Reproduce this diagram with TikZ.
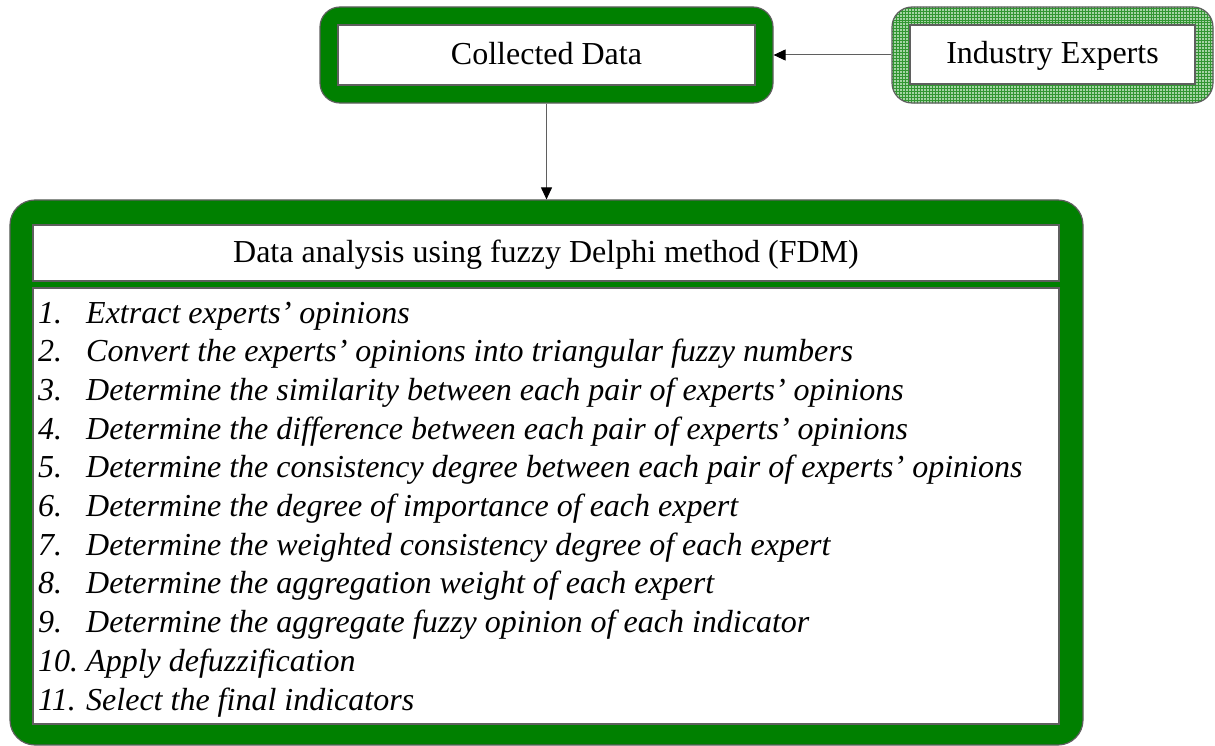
\documentclass[tikz,border=0pt]{standalone}
\usepackage{fontspec}
\setmainfont{Liberation Serif}
\usetikzlibrary{arrows.meta,patterns}
\definecolor{framegreen}{HTML}{008000}
\definecolor{edgegray}{HTML}{5F5F5F}
\definecolor{meshbase}{RGB}{165,212,165}
\definecolor{meshline}{RGB}{50,150,50}
\tikzset{
  greenframe/.style={draw=edgegray, line width=1.2bp, fill=framegreen, inner sep=0pt},
  meshframe/.style={draw=edgegray, line width=1.2bp, preaction={fill=meshbase},
    pattern=grid, pattern color=meshline, inner sep=0pt, rounded corners=20bp},
  whitebox/.style={draw=edgegray, line width=1.2bp, fill=white, inner sep=0pt,
    text height=24bp, text depth=5bp,
    font=\fontsize{32bp}{38bp}\selectfont},
  steptext/.style={anchor=base west, inner sep=0pt,
    font=\fontsize{32bp}{38bp}\selectfont\itshape},
  flow/.style={draw=edgegray, line width=1bp,
    -{Triangle[length=12bp,width=11bp,black]}}
}
\begin{document}
\begin{tikzpicture}[x=1bp,y=-1bp]
  \useasboundingbox (0,0) rectangle (1215,746);

  % top row
  \node[greenframe, rounded corners=20bp, minimum width=453bp, minimum height=96bp]
    (cdframe) at (546.5,55) {};
  \node[whitebox, minimum width=417bp, minimum height=60bp]
    (cd) at (546.5,55) {Collected Data};

  \node[meshframe, minimum width=321bp, minimum height=96bp]
    (ieframe) at (1052.5,55) {};
  \node[whitebox, minimum width=285bp, minimum height=59bp]
    (ie) at (1052.5,54.5) {Industry Experts};

  % analysis block
  \node[greenframe, rounded corners=25bp, minimum width=1073bp, minimum height=545bp]
    (fdmframe) at (546.5,472.5) {};
  \node[whitebox, minimum width=1026bp, minimum height=56bp]
    (fdm) at (546,253) {Data analysis using fuzzy Delphi method (FDM)};
  \node[whitebox, minimum width=1026bp, minimum height=436bp, text height=, text depth=]
    (steps) at (546,506) {};

  \foreach \n/\t [count=\i from 0] in {
    1./Extract experts’ opinions,
    2./Convert the experts’ opinions into triangular fuzzy numbers,
    3./Determine the similarity between each pair of experts’ opinions,
    4./Determine the difference between each pair of experts’ opinions,
    5./Determine the consistency degree between each pair of experts’ opinions,
    6./Determine the degree of importance of each expert,
    7./Determine the weighted consistency degree of each expert,
    8./Determine the aggregation weight of each expert,
    9./Determine the aggregate fuzzy opinion of each indicator,
    10./Apply defuzzification,
    11./Select the final indicators}
    \node[steptext] (s\i) at (38,{323+38.7*\i}) {\makebox[48bp][l]{\n}\t};

  % connectors
  \draw[flow] (ieframe.west) -- (cdframe.east);
  \draw[flow] (cdframe.south) -- (fdmframe.north);
\end{tikzpicture}
\end{document}
